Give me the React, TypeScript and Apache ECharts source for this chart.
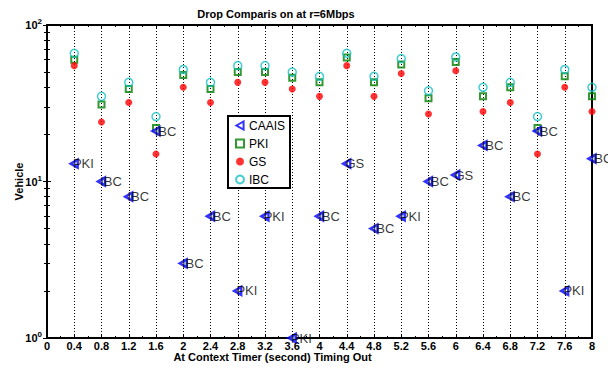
import React, { useEffect, useRef } from 'react';
import * as echarts from 'echarts';

const xValues = [0.4, 0.8, 1.2, 1.6, 2.0, 2.4, 2.8, 3.2, 3.6, 4.0, 4.4, 4.8, 5.2, 5.6, 6.0, 6.4, 6.8, 7.2, 7.6, 8.0];
const caais = [13, 10, 8, 21, 3, 6, 2, 6, 1, 6, 13, 5, 6, 10, 11, 17, 8, 21, 2, 14];
const caaisLabels = ['PKI', 'IBC', 'IBC', 'IBC', 'IBC', 'IBC', 'PKI', 'PKI', 'PKI', 'IBC', 'GS', 'IBC', 'PKI', 'IBC', 'GS', 'IBC', 'IBC', 'IBC', 'PKI', 'IBC'];
const pki = [60, 31, 39, 22, 48, 39, 50, 50, 46, 43, 62, 43, 56, 34, 58, 35, 40, 22, 47, 35];
const gs = [55, 24, 32, 15, 40, 32, 43, 43, 39, 35, 55, 35, 49, 27, 51, 28, 32, 15, 40, 28];
const ibc = [66, 35, 43, 26, 52, 43, 55, 55, 50, 47, 66, 47, 61, 38, 62.5, 40, 43, 26, 52, 40];
const seriesNames = ['CAAIS', 'PKI', 'GS', 'IBC'];

const FONT = 'Liberation Sans, Arial, sans-serif';
const pair = (ys: number[]) => xValues.map((x, i) => [x, ys[i]]);

export default function App() {
  const ref = useRef<HTMLDivElement>(null);
  useEffect(() => {
    const chart = echarts.init(ref.current!, null, { renderer: 'svg' });
    const tickStyle = { show: true, inside: true, length: 4, lineStyle: { color: '#000', width: 1 } };
    const option: any = {
      animation: false,
      backgroundColor: '#fff',
      textStyle: { fontFamily: FONT },
      title: {
        text: 'Drop Comparis on at r=6Mbps',
        left: 271,
        textAlign: 'center',
        top: 3,
        textStyle: { fontSize: 11, fontWeight: 'bold', color: '#000', fontFamily: FONT },
      },
      grid: {
        left: 47, right: 16, top: 25, bottom: 37,
        outerBoundsMode: 'none',
        containLabel: false,
        show: true, borderColor: '#000', borderWidth: 2, backgroundColor: '#fff',
      },
      legend: {
        orient: 'vertical',
        left: 228,
        top: 116,
        itemWidth: 8,
        itemHeight: 8,
        itemGap: 5,
        itemTextGap: 7,
        padding: [3, 5, 2, 7],
        borderColor: '#000',
        borderWidth: 2,
        backgroundColor: '#fff',
        textStyle: { fontSize: 12, color: '#000', fontFamily: FONT, lineHeight: 13 },
        data: seriesNames,
      },
      xAxis: [
        {
          type: 'value', min: 0, max: 8, interval: 0.4,
          name: 'At Context Timer (second) Timing Out',
          nameLocation: 'middle', nameGap: 13, nameMoveOverlap: false,
          nameTextStyle: { fontSize: 11, fontWeight: 'bold', color: '#000', fontFamily: FONT, padding: [0, 94, 0, 0] },
          axisLine: { show: false },
          axisTick: tickStyle,
          minorTick: { show: true, splitNumber: 2, length: 2, lineStyle: { color: '#000', width: 1 } },
          axisLabel: { fontSize: 11, fontWeight: 'bold', color: '#000', margin: 2, fontFamily: FONT },
          splitLine: { show: true, lineStyle: { color: '#000', width: 1, type: [1, 2] } },
        },
        {
          type: 'value', min: 0, max: 8, interval: 0.4, position: 'top',
          axisLine: { show: false },
          axisTick: tickStyle,
          minorTick: { show: true, splitNumber: 2, length: 2, lineStyle: { color: '#000', width: 1 } },
          axisLabel: { show: false },
          splitLine: { show: false },
        },
      ],
      yAxis: [
        {
          type: 'log', logBase: 10, min: 1, max: 100,
          name: 'Vehicle', nameLocation: 'middle', nameGap: 23, nameMoveOverlap: false,
          nameTextStyle: { fontSize: 11, fontWeight: 'bold', color: '#000', fontFamily: FONT },
          axisLine: { show: false },
          axisTick: tickStyle,
          minorTick: { show: true, splitNumber: 9, length: 3, lineStyle: { color: '#000', width: 1 } },
          splitLine: { show: false },
          axisLabel: {
            margin: 5,
            formatter: (v: number) => `{b|10}{s|${Math.round(Math.log10(v))}}`,
            rich: {
              b: { fontSize: 11, fontWeight: 'bold', color: '#000', fontFamily: FONT },
              s: { fontSize: 8, fontWeight: 'bold', color: '#000', fontFamily: FONT, verticalAlign: 'top', padding: [0, 0, 7, 0] },
            },
          },
        },
        {
          type: 'log', logBase: 10, min: 1, max: 100, position: 'right',
          axisLine: { show: false },
          axisTick: tickStyle,
          minorTick: { show: true, splitNumber: 9, length: 3, lineStyle: { color: '#000', width: 1 } },
          splitLine: { show: false },
          axisLabel: { show: false },
        },
      ],
      series: [
        {
          name: 'CAAIS', type: 'scatter', clip: false, z: 5,
          symbol: 'path://M0,5L9,0L9,10Z', symbolSize: [7, 8],
          itemStyle: { color: '#ffffff', borderColor: '#0000ff', borderWidth: 2.5 },
          label: {
            show: true, position: 'right', distance: -6,
            formatter: (p: any) => caaisLabels[p.dataIndex],
            color: '#000', fontSize: 13, fontFamily: FONT,
          },
          data: pair(caais),
        },
        {
          name: 'PKI', type: 'scatter', clip: false,
          symbol: 'rect', symbolSize: 6,
          itemStyle: { color: 'transparent', borderColor: '#008000', borderWidth: 2 },
          data: pair(pki),
        },
        {
          name: 'GS', type: 'scatter', clip: false,
          symbol: 'circle', symbolSize: 7,
          itemStyle: { color: '#ff0000' },
          data: pair(gs),
        },
        {
          name: 'IBC', type: 'scatter', clip: false,
          symbol: 'circle', symbolSize: 8,
          itemStyle: { color: 'transparent', borderColor: '#14c0c4', borderWidth: 1.5 },
          data: pair(ibc),
        },
      ],
    };
    chart.setOption(option);
    return () => chart.dispose();
  }, []);
  return <div ref={ref} style={{ position: 'fixed', left: 0, top: 0, width: 608, height: 375 }} />;
}
